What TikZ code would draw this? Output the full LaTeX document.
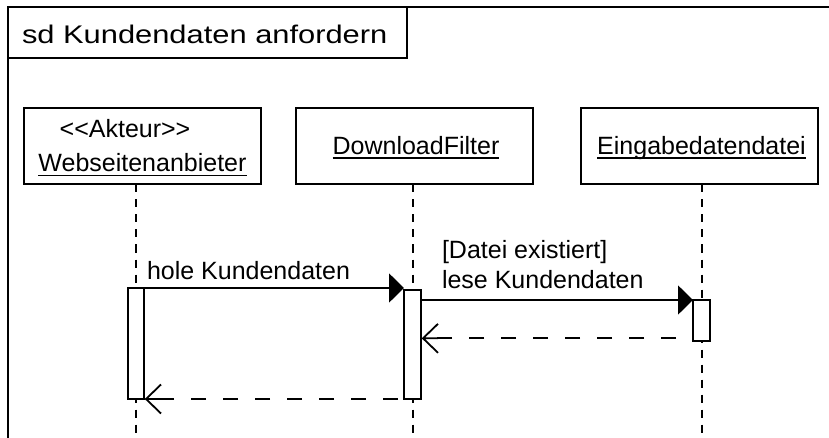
\documentclass[tikz,border=0pt]{standalone}
\usepackage{fontspec}
\setmainfont{Liberation Sans}
\newfontfamily\titlefont[FakeStretch=1.21]{Liberation Sans}
\usetikzlibrary{arrows.meta,calc}

\begin{document}
\begin{tikzpicture}[x=1pt,y=-1pt,
  lbl/.style={inner sep=0pt, outer sep=0pt, font=\fontsize{25}{30}\selectfont},
  titlelbl/.style={inner sep=0pt, outer sep=0pt, font=\titlefont\fontsize{25.5}{30}\selectfont},
  objbox/.style={draw, line width=2pt, minimum width=237pt, minimum height=76.5pt,
                 inner sep=0pt, outer sep=0pt},
  actbar/.style={draw, fill=white, line width=1.8pt, inner sep=0pt, outer sep=0pt},
  lifeline/.style={line width=1.6pt, dash pattern=on 8pt off 7pt},
  callmsg/.style={line width=1.8pt, -{Triangle[length=15pt,width=29pt]}},
  replymsg/.style={line width=1.8pt, dash pattern=on 15pt off 17pt},
  openhead/.style={line width=1.8pt, line join=miter},
  uline/.style={line width=1.5pt},
]
\useasboundingbox (0,0) rectangle (829,438);
\clip (0,0) rectangle (829,438);

% sequence diagram frame and its name tab
\draw[line width=2pt] (8,520) -- (8,7.5) -- (900,7.5);
\node[draw, line width=2pt, anchor=north west, minimum width=399pt, minimum height=50.5pt,
      inner sep=0pt, outer sep=0pt] (tab) at (8,7.5) {};
\node[titlelbl, anchor=base west] (title) at (22,43.3) {sd Kundendaten anfordern};

% participants
\node[objbox] (actorbox)  at (142.5,146.25) {};
\node[objbox] (filterbox) at (414.5,146.25) {};
\node[objbox] (filebox)   at (699.5,146.25) {};

\node[lbl, anchor=base] (stereo) at (125,137.3) {<{}<Akteur>{}>};
\node[lbl, anchor=base] (actorname) at (142.5,172) {Webseitenanbieter};
\node[lbl, anchor=base] (filtername) at (416,154.5) {DownloadFilter};
\node[lbl, anchor=base] (filename) at (701.5,154.5) {Eingabedatendatei};
\foreach \n in {actorname,filtername,filename}
  \draw[uline] ([yshift=-3.6pt]\n.base west) -- ([yshift=-3.6pt]\n.base east);

% lifelines
\coordinate (ll1) at (136,440);
\coordinate (ll2) at (413,440);
\coordinate (ll3) at (702,440);
\draw[lifeline] (actorbox.south -| ll1) -- (ll1);
\draw[lifeline] (filterbox.south -| ll2) -- (ll2);
\draw[lifeline] (filebox.south -| ll3) -- (ll3);

% activation bars
\node[actbar, minimum width=16pt, minimum height=111pt]  (bar1) at (136,343.5) {};
\node[actbar, minimum width=17pt, minimum height=109pt]  (bar2) at (412.5,344.5) {};
\node[actbar, minimum width=17pt, minimum height=40.7pt] (bar3) at (701.5,320.35) {};

% call: hole Kundendaten
\draw[callmsg] (bar1.north east) -- (bar1.north east -| bar2.west);
\node[lbl, anchor=base west] (msgone) at (147,279) {hole Kundendaten};

% call: lese Kundendaten (guarded)
\draw[callmsg] (bar2.east |- bar3.north west) -- (bar3.north west);
\node[lbl, anchor=base west] (guard) at (442,258.3) {[Datei existiert]};
\node[lbl, anchor=base west] (msgtwo) at (442,288.3) {lese Kundendaten};

% reply from Eingabedatendatei
\coordinate (r1start) at ([yshift=2.4pt]bar3.south west);
\coordinate (r1tip) at ($(r1start -| bar2.east)+(2,0)$);
\draw[replymsg, dash phase=15pt] (r1start) -- (r1tip);
\draw[openhead] ($(r1tip)+(15,-14.5)$) -- (r1tip) -- ($(r1tip)+(15,14.5)$)
                (r1tip) -- ++(15,0);

% reply to Webseitenanbieter
\coordinate (r2tip) at ($(bar1.south east)+(2,0)$);
\draw[replymsg, dash phase=26pt] (bar2.south west) -- (r2tip);
\draw[openhead] ($(r2tip)+(15,-14.5)$) -- (r2tip) -- ($(r2tip)+(15,14.5)$)
                (r2tip) -- ++(15,0);
\end{tikzpicture}
\end{document}
